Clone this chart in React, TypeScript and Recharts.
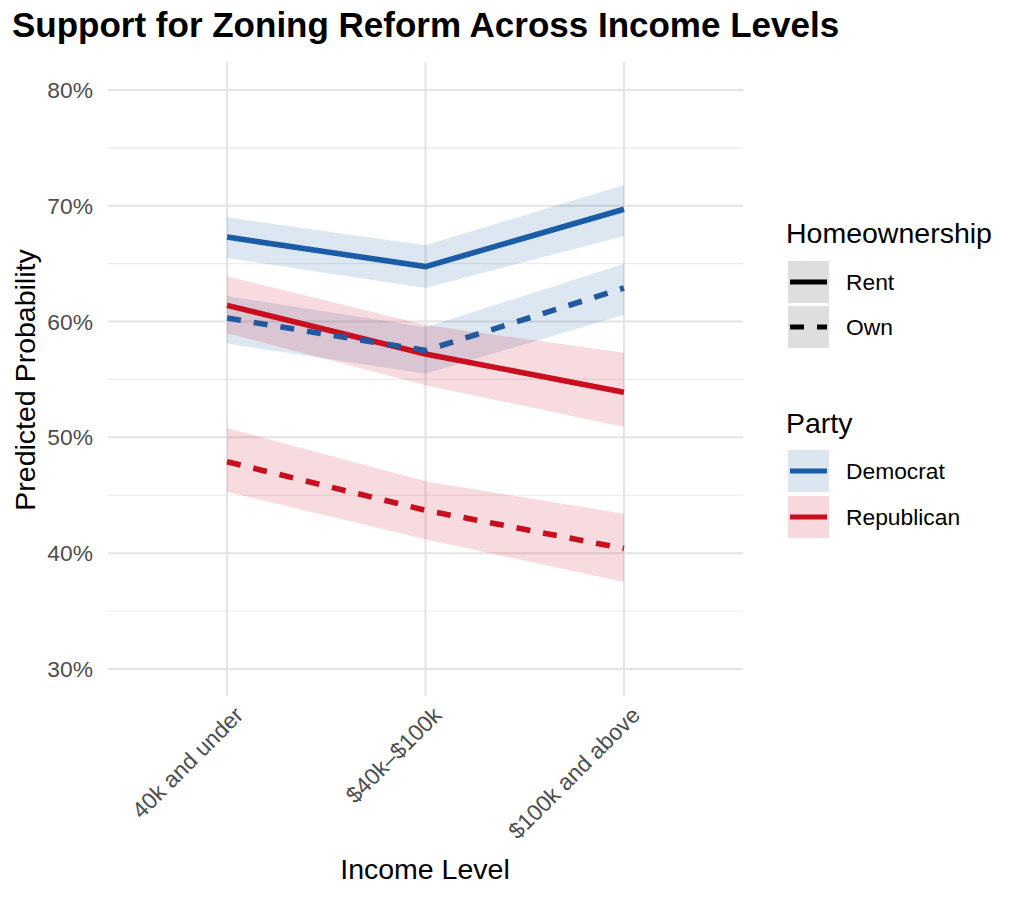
import { ComposedChart, Area, Line, XAxis, YAxis, CartesianGrid } from 'recharts';

const incomeLevels = ['40k and under', '$40k–$100k', '$100k and above'];

// predicted probability (%) with confidence band
const demRent = [67.3, 64.75, 69.7];
const demRentLow = [65.5, 62.9, 67.4];
const demRentHigh = [69.0, 66.6, 71.8];
const demOwn = [60.3, 57.5, 62.9];
const demOwnLow = [58.1, 55.5, 60.6];
const demOwnHigh = [62.2, 59.5, 65.0];
const repRent = [61.4, 57.2, 53.9];
const repRentLow = [59.0, 54.5, 50.9];
const repRentHigh = [63.9, 59.7, 57.3];
const repOwn = [47.9, 43.7, 40.4];
const repOwnLow = [45.3, 41.2, 37.5];
const repOwnHigh = [50.8, 46.2, 43.4];

const majorTicks = [30, 40, 50, 60, 70, 80];
const minorTicks = [35, 45, 55, 65, 75];

const DEM = '#1A5CA5';
const REP = '#C90E1F';
const FONT = '"Liberation Sans", Arial, sans-serif';
const DASH = '14 13';
const LW = 5.6;

const chartData = incomeLevels.map((name, i) => ({
  x: i + 1,
  name,
  demRent: demRent[i],
  demRentBand: [demRentLow[i], demRentHigh[i]],
  demOwn: demOwn[i],
  demOwnBand: [demOwnLow[i], demOwnHigh[i]],
  repRent: repRent[i],
  repRentBand: [repRentLow[i], repRentHigh[i]],
  repOwn: repOwn[i],
  repOwnBand: [repOwnLow[i], repOwnHigh[i]],
}));

const XTick = ({ x, y, payload }: any) => (
  <g transform={`translate(${x + 6},${y + 9}) rotate(-45)`}>
    <text textAnchor="end" dy="0.72em" fill="#4d4d4d" fontSize={22.8} fontFamily={FONT}>
      {incomeLevels[payload.value - 1]}
    </text>
  </g>
);

function KeyBox({ y, fill, children }: { y: number; fill: string; children: any }) {
  return (
    <g>
      <rect x={788} y={y} width={41} height={42} fill={fill} />
      {children}
    </g>
  );
}

export default function App() {
  return (
    <div style={{ position: 'absolute', left: 0, top: 0, width: 1024, height: 899, background: '#fff' }}>
      <ComposedChart
        width={1024}
        height={899}
        data={chartData}
        margin={{ top: 62, right: 281, bottom: 0, left: 0 }}
      >
        <CartesianGrid stroke="#ebebeb" strokeWidth={1.2} vertical={false} horizontalValues={minorTicks} />
        <CartesianGrid stroke="#e3e3e3" strokeWidth={2} horizontalValues={majorTicks} verticalValues={[1, 2, 3]} />
        <XAxis
          dataKey="x"
          type="number"
          domain={[0.4, 3.6]}
          ticks={[1, 2, 3]}
          interval={0}
          height={203}
          axisLine={false}
          tickLine={false}
          tickSize={0}
          tickMargin={0}
          tick={<XTick />}
        />
        <YAxis
          type="number"
          domain={[27.66, 82.42]}
          allowDataOverflow
          ticks={majorTicks}
          width={108}
          axisLine={false}
          tickLine={false}
          tickSize={0}
          tickMargin={15}
          tickFormatter={(v) => `${v}%`}
          tick={{ fill: '#4d4d4d', fontSize: 22.8, fontFamily: FONT }}
        />

        {/* ribbons */}
        <Area type="linear" dataKey="demRentBand" stroke="none" fill={DEM} fillOpacity={0.15} isAnimationActive={false} />
        <Area type="linear" dataKey="demOwnBand" stroke="none" fill={DEM} fillOpacity={0.15} isAnimationActive={false} />
        <Area type="linear" dataKey="repRentBand" stroke="none" fill={REP} fillOpacity={0.15} isAnimationActive={false} />
        <Area type="linear" dataKey="repOwnBand" stroke="none" fill={REP} fillOpacity={0.15} isAnimationActive={false} />

        {/* lines */}
        <Line type="linear" dataKey="repRent" stroke={REP} strokeWidth={LW} dot={false} isAnimationActive={false} />
        <Line type="linear" dataKey="repOwn" stroke={REP} strokeWidth={LW} strokeDasharray={DASH} dot={false} isAnimationActive={false} />
        <Line type="linear" dataKey="demRent" stroke={DEM} strokeWidth={LW} dot={false} isAnimationActive={false} />
        <Line type="linear" dataKey="demOwn" stroke="#22589E" strokeWidth={LW} strokeDasharray={DASH} dot={false} isAnimationActive={false} />
      </ComposedChart>

      <svg
        width={1024}
        height={899}
        style={{ position: 'absolute', left: 0, top: 0, pointerEvents: 'none' }}
        fontFamily={FONT}
      >
        <text x={12} y={37} fontSize={35} fontWeight="bold" fill="#000">
          Support for Zoning Reform Across Income Levels
        </text>
        <text x={425} y={879} fontSize={28.5} textAnchor="middle" fill="#000">
          Income Level
        </text>
        <text transform="translate(35,380) rotate(-90)" fontSize={28.5} textAnchor="middle" fill="#000">
          Predicted Probability
        </text>

        {/* Homeownership legend */}
        <text x={786} y={243} fontSize={28.5} fill="#000">Homeownership</text>
        <KeyBox y={261} fill="#dedede">
          <line x1={790} x2={827} y1={282} y2={282} stroke="#000" strokeWidth={5} />
        </KeyBox>
        <text x={846} y={290} fontSize={22.8} fill="#000">Rent</text>
        <KeyBox y={306} fill="#dedede">
          <line x1={790} x2={827} y1={327} y2={327} stroke="#000" strokeWidth={5} strokeDasharray="14 13" />
        </KeyBox>
        <text x={846} y={335} fontSize={22.8} fill="#000">Own</text>

        {/* Party legend */}
        <text x={786} y={433} fontSize={28.5} fill="#000">Party</text>
        <KeyBox y={450} fill="#dce6f1">
          <line x1={790} x2={827} y1={471} y2={471} stroke={DEM} strokeWidth={5} />
        </KeyBox>
        <text x={846} y={479} fontSize={22.8} fill="#000">Democrat</text>
        <KeyBox y={496} fill="#f7d9dd">
          <line x1={790} x2={827} y1={517} y2={517} stroke={REP} strokeWidth={5} />
        </KeyBox>
        <text x={846} y={525} fontSize={22.8} fill="#000">Republican</text>
      </svg>
    </div>
  );
}
